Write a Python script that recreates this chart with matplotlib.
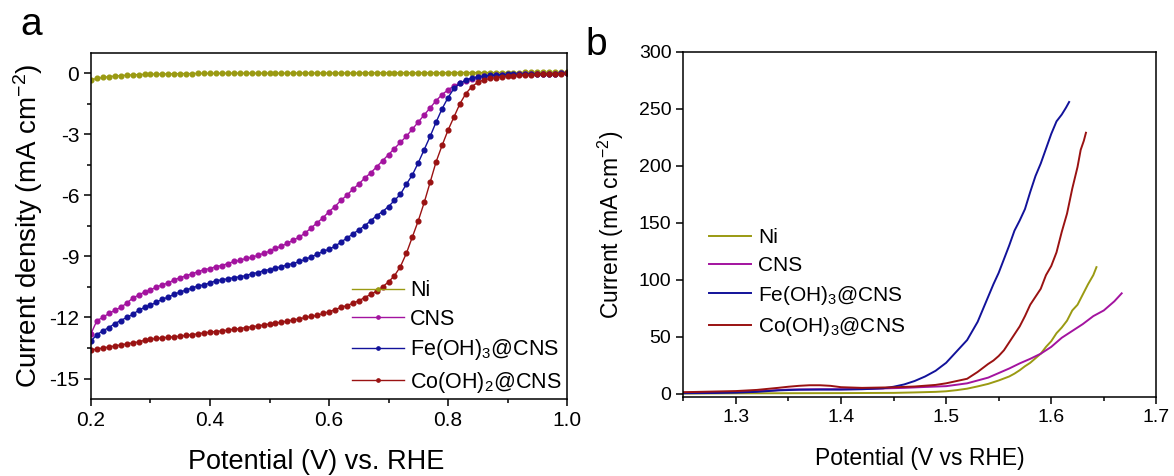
import numpy as np
import matplotlib
matplotlib.use("Agg")
import matplotlib.pyplot as plt
from matplotlib.ticker import MultipleLocator

plt.rcParams["font.family"] = ["Liberation Sans", "DejaVu Sans"]
plt.rcParams["mathtext.fontset"] = "custom"
plt.rcParams["mathtext.rm"] = "Liberation Sans"
plt.rcParams["mathtext.it"] = "Liberation Sans:italic"
plt.rcParams["mathtext.default"] = "regular"
plt.rcParams["axes.unicode_minus"] = False

# ---- panel a: ORR polarisation curves (0.20 ... 1.00 V, step 0.01 V)
potential_a = np.linspace(0.20, 1.00, 81)

ni_a = [-0.32, -0.26, -0.21, -0.17, -0.14, -0.12, -0.10, -0.08, -0.07, -0.06,
        -0.05, -0.04, -0.04, -0.03, -0.03, -0.02, -0.02, -0.02, -0.01, -0.01,
        -0.01, -0.01, 0.00, 0.00, 0.00, 0.00, 0.00, 0.00, 0.00, 0.00,
        0.00, 0.00, 0.00, 0.00, 0.01, 0.01, 0.01, 0.01, 0.01, 0.01,
        0.01, 0.01, 0.01, 0.01, 0.01, 0.01, 0.02, 0.02, 0.02, 0.02,
        0.02, 0.02, 0.02, 0.02, 0.02, 0.02, 0.02, 0.02, 0.02, 0.02,
        0.03, 0.03, 0.03, 0.03, 0.03, 0.03, 0.03, 0.03, 0.03, 0.03,
        0.03, 0.03, 0.03, 0.04, 0.04, 0.04, 0.04, 0.04, 0.04, 0.04,
        0.04]

cns_a = [-12.80, -12.15, -12.00, -11.80, -11.65, -11.50, -11.30, -11.05, -10.90, -10.75,
         -10.65, -10.50, -10.40, -10.30, -10.15, -10.05, -9.95, -9.85, -9.75, -9.65,
         -9.60, -9.50, -9.45, -9.35, -9.25, -9.20, -9.10, -9.05, -8.95, -8.85,
         -8.75, -8.60, -8.50, -8.35, -8.20, -8.05, -7.85, -7.60, -7.35, -7.10,
         -6.80, -6.55, -6.25, -6.00, -5.70, -5.45, -5.15, -4.90, -4.60, -4.30,
         -4.00, -3.70, -3.40, -3.10, -2.75, -2.40, -2.05, -1.70, -1.35, -1.05,
         -0.82, -0.62, -0.48, -0.36, -0.28, -0.20, -0.16, -0.13, -0.11, -0.09,
         -0.08, -0.07, -0.06, -0.05, -0.04, -0.04, -0.03, -0.02, -0.02, -0.01,
         0.00]

fe_a = [-13.15, -12.85, -12.65, -12.50, -12.30, -12.15, -12.00, -11.85, -11.65, -11.50,
        -11.40, -11.25, -11.10, -11.00, -10.85, -10.75, -10.65, -10.55, -10.45, -10.40,
        -10.30, -10.20, -10.15, -10.10, -10.05, -10.00, -9.95, -9.85, -9.80, -9.70,
        -9.65, -9.58, -9.50, -9.42, -9.35, -9.25, -9.15, -9.02, -8.90, -8.75,
        -8.65, -8.50, -8.30, -8.10, -7.90, -7.70, -7.50, -7.25, -7.00, -6.80,
        -6.55, -6.25, -5.95, -5.45, -5.00, -4.40, -3.75, -3.10, -2.40, -1.75,
        -1.20, -0.75, -0.50, -0.33, -0.24, -0.18, -0.14, -0.11, -0.09, -0.07,
        -0.06, -0.05, -0.05, -0.04, -0.04, -0.03, -0.03, -0.02, -0.02, -0.01,
        0.00]

co_a = [-13.60, -13.55, -13.50, -13.45, -13.40, -13.35, -13.30, -13.25, -13.20, -13.12,
        -13.07, -13.03, -13.00, -12.97, -12.95, -12.92, -12.88, -12.85, -12.80, -12.76,
        -12.72, -12.69, -12.66, -12.62, -12.58, -12.55, -12.50, -12.46, -12.42, -12.37,
        -12.32, -12.28, -12.23, -12.18, -12.12, -12.07, -12.00, -11.95, -11.90, -11.80,
        -11.72, -11.62, -11.50, -11.42, -11.30, -11.18, -11.02, -10.87, -10.70, -10.50,
        -10.25, -9.95, -9.50, -8.85, -8.05, -7.25, -6.35, -5.35, -4.35, -3.55,
        -2.80, -2.15, -1.50, -1.00, -0.66, -0.45, -0.33, -0.26, -0.22, -0.19,
        -0.16, -0.13, -0.11, -0.09, -0.08, -0.06, -0.05, -0.04, -0.03, -0.02,
        -0.01]

# ---- panel b: OER polarisation curves
ni_b_x = [1.25, 1.30, 1.35, 1.40, 1.45, 1.47, 1.49, 1.50, 1.51, 1.52, 1.53, 1.54,
          1.55, 1.56, 1.565, 1.57, 1.575, 1.58, 1.585, 1.59, 1.595, 1.60, 1.605,
          1.61, 1.615, 1.62, 1.625, 1.63, 1.635, 1.64, 1.643]
ni_b_y = [0.0, 0.2, 0.3, 0.4, 0.6, 1.0, 1.5, 2.0, 3.0, 4.3, 6.3, 8.5,
          11.5, 15.0, 17.5, 20.5, 24.0, 27.0, 31.0, 35.0, 41.0, 46.0, 53.0,
          58.0, 64.0, 73.0, 78.0, 87.0, 96.0, 104.0, 111.0]

cns_b_x = [1.25, 1.30, 1.33, 1.35, 1.38, 1.40, 1.42, 1.44, 1.46, 1.48, 1.50, 1.52,
           1.54, 1.56, 1.57, 1.58, 1.59, 1.60, 1.61, 1.62, 1.63, 1.64, 1.65, 1.66,
           1.667]
cns_b_y = [0.8, 1.5, 2.5, 3.5, 3.8, 3.8, 4.0, 4.5, 5.0, 5.8, 6.5, 9.0,
           14.0, 22.0, 26.5, 30.5, 35.0, 41.0, 49.0, 55.0, 61.0, 68.0, 73.0, 81.0,
           88.0]

fe_b_x = [1.25, 1.28, 1.30, 1.32, 1.34, 1.36, 1.38, 1.40, 1.42, 1.44, 1.45, 1.46,
          1.47, 1.48, 1.49, 1.50, 1.51, 1.52, 1.525, 1.53, 1.535, 1.54, 1.545,
          1.55, 1.555, 1.56, 1.565, 1.57, 1.575, 1.58, 1.585, 1.59, 1.595, 1.60,
          1.605, 1.61, 1.614, 1.617]
fe_b_y = [0.3, 0.5, 0.8, 1.5, 2.8, 3.4, 3.5, 3.5, 3.8, 4.6, 6.0, 8.0,
          11.0, 15.0, 20.0, 27.0, 37.0, 47.0, 55.0, 63.0, 74.0, 85.0, 96.0,
          106.0, 118.0, 130.0, 143.0, 152.0, 162.0, 177.0, 191.0, 202.0, 215.0, 228.0,
          239.0, 245.0, 251.0, 256.0]

co_b_x = [1.25, 1.28, 1.30, 1.32, 1.34, 1.35, 1.36, 1.37, 1.38, 1.39, 1.40, 1.42,
          1.45, 1.47, 1.49, 1.50, 1.51, 1.52, 1.53, 1.54, 1.545, 1.55, 1.555,
          1.56, 1.565, 1.57, 1.575, 1.58, 1.585, 1.59, 1.595, 1.60, 1.605, 1.61,
          1.615, 1.62, 1.625, 1.628, 1.631, 1.633]
co_b_y = [1.2, 1.8, 2.2, 3.2, 5.0, 6.0, 6.8, 7.3, 7.3, 6.8, 5.6, 5.0,
          5.5, 6.2, 7.6, 9.0, 11.0, 13.0, 19.0, 26.0, 29.0, 33.0, 38.0,
          45.0, 52.0, 59.0, 68.0, 78.0, 85.0, 92.0, 104.0, 112.0, 124.0, 142.0,
          158.0, 180.0, 199.0, 214.0, 222.0, 229.0]

labels_a = ["Ni", "CNS", "Fe(OH)$_3$@CNS", "Co(OH)$_2$@CNS"]
labels_b = ["Ni", "CNS", "Fe(OH)$_3$@CNS", "Co(OH)$_3$@CNS"]
colors = ["#9a9a12", "#a3139f", "#12129a", "#9a1212"]


def style_axis(ax, size):
    for sp in ax.spines.values():
        sp.set_linewidth(1.1)
    ax.tick_params(which="both", direction="out", labelsize=size, width=1.1)
    ax.tick_params(which="major", length=5)
    ax.tick_params(which="minor", length=3)


fig = plt.figure(figsize=(11.74, 4.76), dpi=100)

# panel a
ax1 = fig.add_axes([0.0775, 0.162, 0.4055, 0.727])
for ys, lab, c in zip([ni_a, cns_a, fe_a, co_a], labels_a, colors):
    ax1.plot(potential_a, ys, color=c, lw=1.0, marker="o", ms=3.4,
             mec=c, mfc=c, label=lab)
ax1.set_xlim(0.2, 1.0)
ax1.set_ylim(-16, 1)
ax1.set_xticks([0.2, 0.4, 0.6, 0.8, 1.0])
ax1.set_yticks([0, -3, -6, -9, -12, -15])
ax1.xaxis.set_minor_locator(MultipleLocator(0.1))
ax1.yaxis.set_minor_locator(MultipleLocator(1.5))
style_axis(ax1, 15)
ax1.set_xlabel("Potential (V) vs. RHE", fontsize=19.5)
ax1.xaxis.set_label_coords(0.473, -0.182, transform=ax1.transAxes)
ax1.xaxis.label.set_va("center")
ax1.set_ylabel("Current density (mA cm$^{-2}$)", fontsize=20, labelpad=3)
ax1.legend(loc="lower left", bbox_to_anchor=(0.548, 0.012), frameon=False,
           fontsize=15.5, handlelength=2.4, handletextpad=0.3, labelspacing=0.35,
           borderpad=0, borderaxespad=0, numpoints=1, markerscale=0.7)

# panel b
ax2 = fig.add_axes([0.582, 0.166, 0.403, 0.725])
for xs, ys, lab, c in zip([ni_b_x, cns_b_x, fe_b_x, co_b_x],
                          [ni_b_y, cns_b_y, fe_b_y, co_b_y], labels_b, colors):
    ax2.plot(xs, ys, color=c, lw=1.4, label=lab)
ax2.set_xlim(1.25, 1.7)
ax2.set_ylim(-3, 300)
ax2.set_xticks([1.3, 1.4, 1.5, 1.6, 1.7])
ax2.set_yticks([0, 50, 100, 150, 200, 250, 300])
ax2.xaxis.set_minor_locator(MultipleLocator(0.05))
style_axis(ax2, 14)
ax2.set_xlabel("Potential (V vs RHE)", fontsize=16.5, labelpad=15)
ax2.set_ylabel("Current (mA cm$^{-2}$)", fontsize=16.5, labelpad=9)
ax2.legend(loc="lower left", bbox_to_anchor=(0.055, 0.17), frameon=False,
           fontsize=15, handlelength=2.0, handletextpad=0.35, labelspacing=0.42,
           borderpad=0, borderaxespad=0)

fig.text(0.017, 0.926, "a", fontsize=28, va="baseline")
fig.text(0.499, 0.884, "b", fontsize=28, va="baseline")

fig.savefig("out.png", dpi=100)
